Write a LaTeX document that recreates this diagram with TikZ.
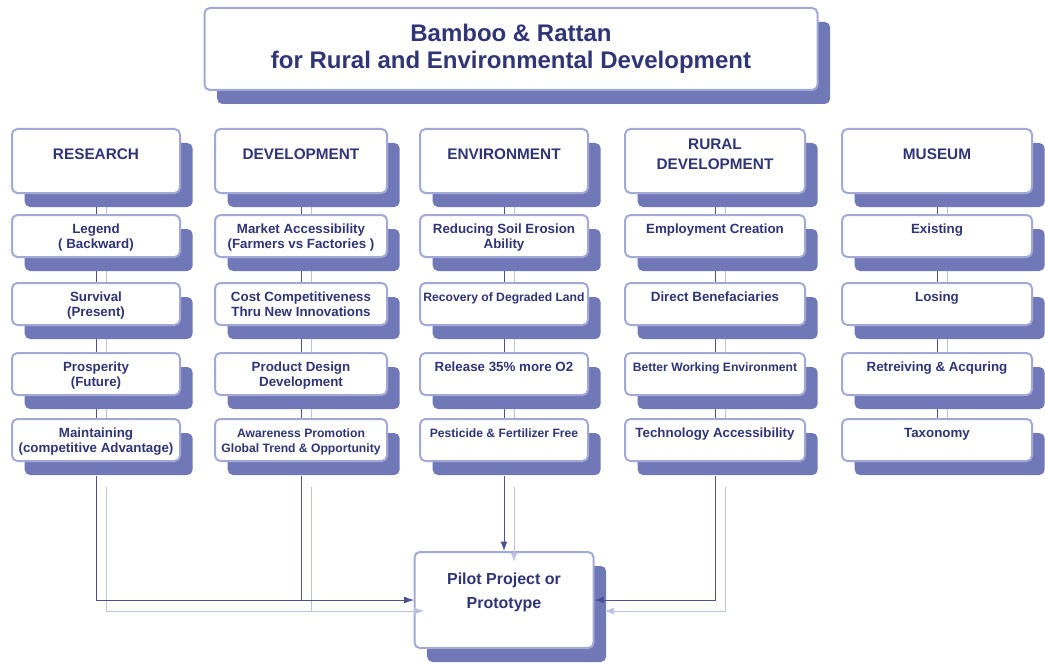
\documentclass[tikz,border=0pt]{standalone}
\usepackage{fontspec}
\setmainfont{Liberation Sans}
\usetikzlibrary{shadows,backgrounds,arrows.meta}
\newcommand{\px}{0.75pt}
\definecolor{boxline}{HTML}{A3A9D6}
\definecolor{shadowblue}{HTML}{7178B8}
\definecolor{inkblue}{HTML}{2F3577}
\definecolor{linkcol}{HTML}{4C5290}
\definecolor{ghostcol}{HTML}{BCC1E2}
\tikzset{
  box/.style={draw=boxline, line width=1.5pt, fill=white, rounded corners=4pt,
    drop shadow={shadow xshift=9.5pt, shadow yshift=-10.5pt, fill=shadowblue, opacity=1}},
  headbox/.style={box, minimum height=64*\px, inner sep=0pt},
  subbox/.style={box, minimum height=42*\px, inner sep=0pt},
  headtxt/.style={anchor=center, yshift=-26*\px, align=center, inner sep=0pt, text=inkblue,
    font=\bfseries\fontsize{11.5}{15}\selectfont},
  subtxt/.style={anchor=north, yshift=-10*\px, align=center, inner sep=0pt, text=inkblue,
    font=\bfseries\fontsize{10}{11.25}\selectfont},
  smalltxt/.style={subtxt, font=\bfseries\fontsize{9.1}{11.25}\selectfont},
  link/.style={draw=linkcol, line width=0.7pt,
    preaction={draw=ghostcol, line width=0.7pt, transform canvas={shift={(10,11)}}}},
  arrow/.style={link, -{Latex[length=7pt,width=5pt]}},
}
\begin{document}
\begin{tikzpicture}[x=0.75pt, y=-0.75pt]
    \useasboundingbox (0,0) rectangle (1045,663);
    \node[box, minimum width=613*\px, minimum height=82*\px, align=center, text=inkblue,
      font=\bfseries\fontsize{18}{20.5}\selectfont] (title) at (511,49)
      {Bamboo \& Rattan\\for Rural and Environmental Development};

    \node[headbox, minimum width=168*\px, label={[headtxt]north:RESEARCH}] (res) at (96,161) {};
    \node[headbox, minimum width=172*\px, label={[headtxt]north:DEVELOPMENT}] (dev) at (301,161) {};
    \node[headbox, minimum width=168*\px, label={[headtxt]north:ENVIRONMENT}] (env) at (504,161) {};
    \node[headbox, minimum width=180*\px, label={[headtxt]north:{RURAL\\DEVELOPMENT}}] (rur) at (715,161) {};
    \node[headbox, minimum width=190*\px, label={[headtxt]north:MUSEUM}] (mus) at (937,161) {};

    \node[subbox, minimum width=168*\px, label={[subtxt]north:{Legend\\( Backward)}}] (res1) at (96,236) {};
    \node[subbox, minimum width=168*\px, label={[subtxt]north:{Survival\\(Present)}}] (res2) at (96,304) {};
    \node[subbox, minimum width=168*\px, label={[subtxt]north:{Prosperity\\(Future)}}] (res3) at (96,374) {};
    \node[subbox, minimum width=168*\px, label={[subtxt]north:{Maintaining\\(competitive Advantage)}}] (res4) at (96,440) {};

    \node[subbox, minimum width=172*\px, label={[subtxt]north:{Market Accessibility\\(Farmers vs Factories )}}] (dev1) at (301,236) {};
    \node[subbox, minimum width=172*\px, label={[subtxt]north:{Cost Competitiveness\\Thru New Innovations}}] (dev2) at (301,304) {};
    \node[subbox, minimum width=172*\px, label={[subtxt]north:{Product Design\\Development}}] (dev3) at (301,374) {};
    \node[subbox, minimum width=172*\px, label={[smalltxt]north:{Awareness Promotion\\Global Trend \& Opportunity}}] (dev4) at (301,440) {};

    \node[subbox, minimum width=168*\px, label={[subtxt]north:{Reducing Soil Erosion\\Ability}}] (env1) at (504,236) {};
    \node[subbox, minimum width=168*\px, label={[smalltxt]north:{Recovery of Degraded Land}}] (env2) at (504,304) {};
    \node[subbox, minimum width=168*\px, label={[subtxt]north:{Release 35\% more O2}}] (env3) at (504,374) {};
    \node[subbox, minimum width=168*\px, label={[smalltxt]north:{Pesticide \& Fertilizer Free}}] (env4) at (504,440) {};

    \node[subbox, minimum width=180*\px, label={[subtxt]north:{Employment Creation}}] (rur1) at (715,236) {};
    \node[subbox, minimum width=180*\px, label={[subtxt]north:{Direct Benefaciaries}}] (rur2) at (715,304) {};
    \node[subbox, minimum width=180*\px, label={[smalltxt]north:{Better Working Environment}}] (rur3) at (715,374) {};
    \node[subbox, minimum width=180*\px, label={[subtxt]north:{Technology Accessibility}}] (rur4) at (715,440) {};

    \node[subbox, minimum width=190*\px, label={[subtxt]north:{Existing}}] (mus1) at (937,236) {};
    \node[subbox, minimum width=190*\px, label={[subtxt]north:{Losing}}] (mus2) at (937,304) {};
    \node[subbox, minimum width=190*\px, label={[subtxt]north:{Retreiving \& Acquring}}] (mus3) at (937,374) {};
    \node[subbox, minimum width=190*\px, label={[subtxt]north:{Taxonomy}}] (mus4) at (937,440) {};

    \node[box, minimum width=179*\px, minimum height=96*\px, label={[subtxt, yshift=-12*\px,
      font=\bfseries\fontsize{12}{18}\selectfont]north:{Pilot Project or\\Prototype}}] (pilot) at (504,600) {};

    \begin{scope}[on background layer]
      \draw[link] (res) -- (res1) -- (res2) -- (res3) -- (res4);
      \draw[link] (dev) -- (dev1) -- (dev2) -- (dev3) -- (dev4);
      \draw[link] (env) -- (env1) -- (env2) -- (env3) -- (env4);
      \draw[link] (rur) -- (rur1) -- (rur2) -- (rur3) -- (rur4);
      \draw[link] (mus) -- (mus1) -- (mus2) -- (mus3) -- (mus4);
    \end{scope}
    \draw[arrow] ([yshift=-10.5pt]res4.south) |- (pilot);
    \draw[arrow] ([yshift=-10.5pt]dev4.south) |- (pilot);
    \draw[arrow] ([yshift=-10.5pt]env4.south) -- (pilot);
    \draw[arrow] ([yshift=-10.5pt]rur4.south) |- (pilot);
\end{tikzpicture}
\end{document}
